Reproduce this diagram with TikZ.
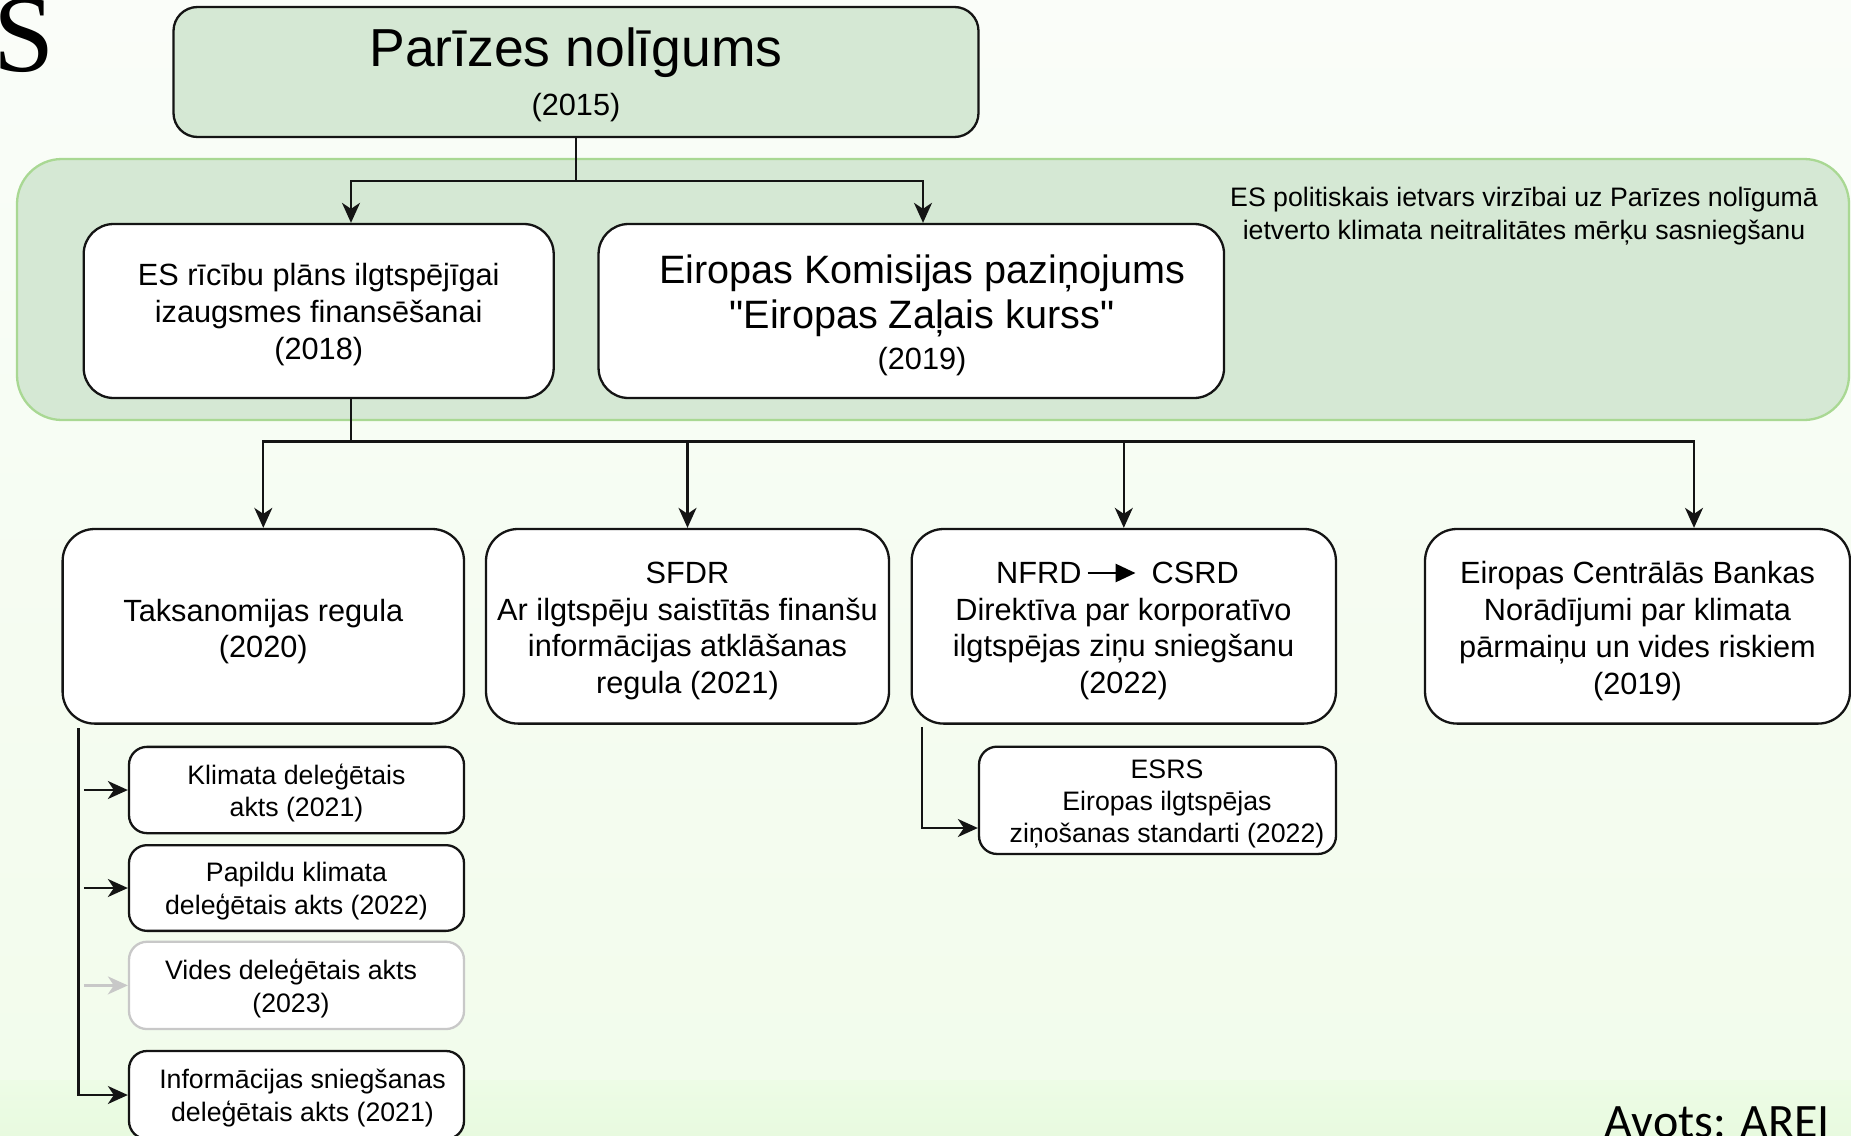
\documentclass[tikz,border=0pt]{standalone}
\usepackage{fontspec}
\setmainfont{Liberation Sans}[Ligatures=TeXOff]
\newfontfamily\carlfont{Carlito}
\newfontfamily\serfont{Liberation Serif}
\usetikzlibrary{arrows.meta,calc}
\definecolor{gfill}{HTML}{D5E8D4}
\definecolor{gstroke}{HTML}{A9D893}
\definecolor{bline}{HTML}{141414}
\definecolor{grayline}{HTML}{C8C8C8}
\definecolor{bgtop}{HTML}{FAFDF9}
\definecolor{bgmid}{HTML}{F2FCEC}
\definecolor{bgmidb}{HTML}{EDFCE6}
\definecolor{bgbot}{HTML}{E8FADF}
\newcommand\fsbig{\fontsize{53.5}{63}\selectfont}
\newcommand\fsmed{\fontsize{39.6}{46}\selectfont}
\newcommand\fsnorm{\fontsize{30.7}{36.8}\selectfont}
\newcommand\fssmall{\fontsize{26.7}{32.4}\selectfont}
\begin{document}
\begin{tikzpicture}[x=1pt,y=-1pt,
  boxbase/.style={draw=bline, line width=2.3pt, fill=white, inner sep=0pt},
  bigbox/.style={boxbase, rounded corners=32pt},
  midbox/.style={boxbase, rounded corners=30pt},
  smallbox/.style={boxbase, rounded corners=18pt},
  graybox/.style={smallbox, draw=grayline},
  txt/.style={align=center, inner sep=0pt, text=black},
  conn/.style={draw=bline, line width=2.2pt},
  arr/.style={conn, -{Stealth[length=20pt,width=18pt,inset=6pt]}},
  arrg/.style={arr, draw=grayline}
]
\useasboundingbox (0,0) rectangle (1851,1135);
% background
\shade[top color=bgtop, bottom color=bgmid] (0,0) rectangle (1851,1080);
\shade[top color=bgmidb, bottom color=bgbot] (0,1080) rectangle (1851,1136);
% clipped letter top-left and source note
\node[font=\serfont\fontsize{110}{110}\selectfont, anchor=base west, inner sep=0pt] (sletter) at (-7,71) {S};
\node[font=\carlfont\fontsize{48}{48}\selectfont, anchor=base east, inner sep=0pt] (source) at (1830,1137) {Avots: AREI};

% green frame
\node[draw=gstroke, fill=gfill, line width=2.3pt, rounded corners=45pt, minimum width=1832pt, minimum height=261pt, inner sep=0pt] (frame) at (933,289.5) {};
\node[txt, font=\fssmall] (frame-t) at (1524,216) {ES politiskais ietvars virzībai uz Parīzes nolīgumā\\ietverto klimata neitralitātes mērķu sasniegšanu};

% top box
\node[boxbase, fill=gfill, rounded corners=24pt, minimum width=805pt, minimum height=130pt] (top) at (576,72) {};
\node[txt, font=\fsbig] (top-t1) at (576,53) {Parīzes nolīgums};
\node[txt, font=\fsnorm] (top-t2) at (576,108) {(2015)};

% second level
\node[midbox, minimum width=470pt, minimum height=174pt] (es) at (318.7,311) {};
\node[txt, font=\fsnorm] (es-t) at (318.7,314.5) {ES rīcību plāns ilgtspējīgai\\izaugsmes finansēšanai\\(2018)};
\node[midbox, minimum width=625.5pt, minimum height=174pt] (ek) at (911.3,311) {};
\node[txt, font=\fsmed] (ek-t1) at (922,273) {Eiropas Komisijas paziņojums};
\node[txt, font=\fsmed] (ek-t2) at (922,318.5) {"Eiropas Zaļais kurss"};
\node[txt, font=\fsnorm] (ek-t3) at (922,362) {(2019)};

% third level
\node[bigbox, minimum width=401.4pt, minimum height=194.6pt] (taks) at (263.3,626.3) {};
\node[txt, font=\fsnorm] (taks-t) at (263.3,631.5) {Taksanomijas regula\\(2020)};
\node[bigbox, minimum width=403pt, minimum height=194.6pt] (sfdr) at (687.5,626.3) {};
\node[txt, font=\fsnorm] (sfdr-t) at (687.5,631) {SFDR\\Ar ilgtspēju saistītās finanšu\\informācijas atklāšanas\\regula (2021)};
\node[bigbox, minimum width=424.3pt, minimum height=194.6pt] (nfrd) at (1123.8,626.3) {};
\node[txt, font=\fsnorm] (nfrd-a) at (1038.8,573) {NFRD};
\node[txt, font=\fsnorm] (nfrd-b) at (1195.2,573) {CSRD};
\node[txt, font=\fsnorm] (nfrd-t) at (1123.5,649) {Direktīva par korporatīvo\\ilgtspējas ziņu sniegšanu\\(2022)};
\node[bigbox, minimum width=425pt, minimum height=194.6pt] (ecb) at (1637.5,626.3) {};
\node[txt, font=\fsnorm] (ecb-t) at (1637.5,631) {Eiropas Centrālās Bankas\\Norādījumi par klimata\\pārmaiņu un vides riskiem\\(2019)};

% delegated acts
\node[smallbox, minimum width=335pt, minimum height=86.3pt] (klim) at (296.5,790) {};
\node[txt, font=\fssmall] (klim-t) at (296.5,793) {Klimata deleģētais\\akts (2021)};
\node[smallbox, minimum width=335pt, minimum height=85.7pt] (pap) at (296.5,888) {};
\node[txt, font=\fssmall] (pap-t) at (296.5,891) {Papildu klimata\\deleģētais akts (2022)};
\node[graybox, minimum width=335pt, minimum height=87.3pt] (vides) at (296.5,985.4) {};
\node[txt, font=\fssmall] (vides-t) at (291,988.5) {Vides deleģētais akts\\(2023)};
\node[smallbox, minimum width=335pt, minimum height=88pt] (info) at (296.5,1095) {};
\node[txt, font=\fssmall] (info-t) at (302.5,1098) {Informācijas sniegšanas\\deleģētais akts (2021)};

% ESRS
\node[smallbox, minimum width=357pt, minimum height=107.3pt] (esrs) at (1157.5,800.3) {};
\node[txt, font=\fssmall] (esrs-t) at (1167,804) {ESRS\\Eiropas ilgtspējas\\ziņošanas standarti (2022)};

% connectors
\coordinate (bus1) at (576,180.6);
\coordinate (bus2) at (351,441.5);
\draw[conn] (top.south) -- (bus1);
\draw[arr] (bus1) -| ($(es.north)+(32.3,0)$);
\draw[arr] (bus1) -| ($(ek.north)+(11.7,0)$);
\draw[conn] ($(es.south)+(32.3,0)$) -- (bus2);
\draw[arr] (bus2) -| (taks.north);
\draw[arr] (bus2) -| (sfdr.north);
\draw[arr] (bus2) -| (nfrd.north);
\draw[arr] (bus2) -| ($(ecb.north)+(56.5,0)$);

\draw[arr] ($(taks.south west)+(17,3.4)$) |- (info.west);
\draw[arr] ($(klim.west)+(-44,0)$) -- (klim.west);
\draw[arr] ($(pap.west)+(-44,0)$) -- (pap.west);
\draw[arrg] ($(vides.west)+(-44,0)$) -- (vides.west);
\draw[arr] ($(nfrd.south west)+(11.5,2)$) |- ($(esrs.west)+(0,27.7)$);

\draw[draw=black, line width=2.8pt, -{Triangle[length=20pt,width=18pt]}, shorten <=6pt, shorten >=16pt] (nfrd-a.east) -- (nfrd-b.west);
\end{tikzpicture}
\end{document}
